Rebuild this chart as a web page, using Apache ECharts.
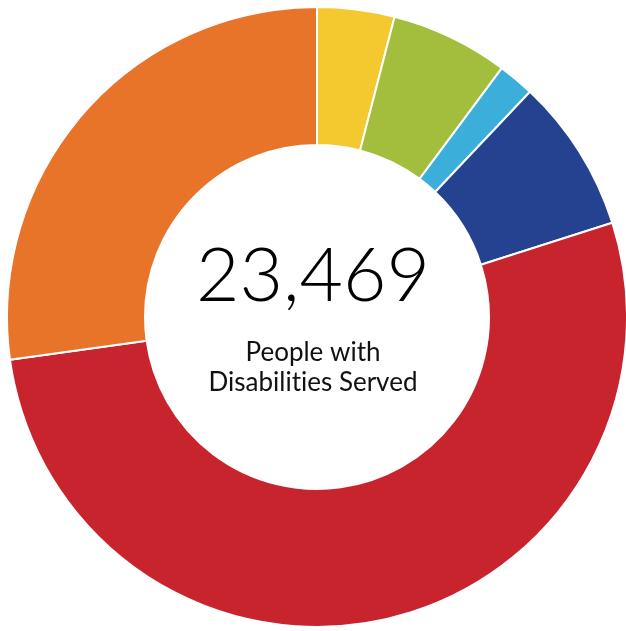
<!DOCTYPE html>
<html>
<head>
<meta charset="utf-8">
<script src="https://cdn.jsdelivr.net/npm/echarts@6/dist/echarts.min.js"></script>
<style>
html,body{margin:0;padding:0;background:#fff;}
#chart{width:626px;height:631px;}
</style>
</head>
<body>
<div id="chart"></div>
<script>
var categories = ['Category A', 'Category B', 'Category C', 'Category D', 'Category E', 'Category F'];
var values = [945, 1441, 443, 1884, 12373, 6383];
var colors = ['#F4C82F', '#A2BE3C', '#3BAED9', '#254290', '#C8242D', '#E8742A'];
var totalLabel = '23,469';
var subLine1 = 'People with';
var subLine2a = 'Disabilit';
var subLine2b = 'ies Served';

var chart = echarts.init(document.getElementById('chart'));
chart.setOption({
  animation: false,
  color: colors,
  series: [{
    type: 'pie',
    center: [317, 317],
    radius: [172, 310],
    startAngle: 90,
    clockwise: true,
    label: {show: false},
    labelLine: {show: false},
    itemStyle: {borderColor: '#fff', borderWidth: 2},
    emphasis: {disabled: true},
    data: categories.map(function (c, i) { return {name: c, value: values[i]}; })
  }],
  graphic: [
    {type: 'text', left: 'center', top: 239, style: {text: totalLabel, font: '300 75px Lato', fill: '#000', textAlign: 'center'}},
    {type: 'text', left: 'center', top: 340, style: {
      text: '{s|' + subLine1 + '}\n{s|' + subLine2a + '}{s|' + subLine2b + '}',
      textAlign: 'center',
      rich: {s: {fontFamily: 'Lato', fontSize: 26, fontWeight: 400, lineHeight: 30, fill: '#111'}}
    }}
  ]
});
</script>
</body>
</html>
